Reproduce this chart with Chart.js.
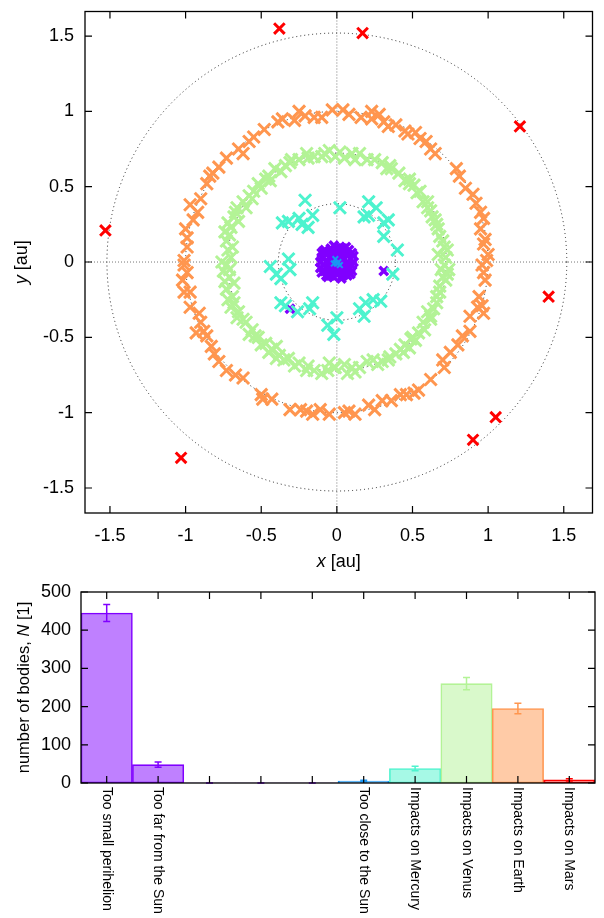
<!DOCTYPE html>
<html>
<head>
<meta charset="utf-8">
<script src="https://cdn.jsdelivr.net/npm/chart.js@4.4.1/dist/chart.umd.min.js"></script>
<style>
  body { margin: 0; background: #fff; }
  canvas { display: block; }
</style>
</head>
<body>
<canvas id="orbits" width="604" height="580"></canvas>
<canvas id="losses" width="604" height="338"></canvas>
<script>
/*
    positions of the removed bodies (x, y in au) and the loss counts
*/
const axisTicks = [-1.5, -1, -0.5, 0, 0.5, 1, 1.5];
const orbitRadii = [0.387, 0.723, 1.0, 1.52];

// too small perihelion (dense blob round the Sun + two strays)
const smallPerihelion = [
  [0, 0], [0.03, 0.01], [-0.03, 0.02], [0.06, -0.01], [-0.06, 0.00], [0.09, 0.02], [-0.09, -0.02],
  [0.01, 0.05], [0.04, 0.06], [-0.04, 0.06], [0.07, 0.05], [-0.07, 0.05], [0.00, 0.09], [0.04, 0.09],
  [-0.04, 0.09], [0.08, 0.08], [-0.08, 0.08], [0.02, -0.04], [-0.02, -0.03], [0.05, -0.05], [-0.05, -0.05],
  [0.08, -0.05], [-0.08, -0.06], [0.00, -0.08], [0.04, -0.09], [-0.04, -0.09], [0.07, -0.09], [-0.07, -0.09],
  [0.10, -0.02], [-0.10, 0.03], [0.10, 0.06], [-0.10, -0.07], [0.02, 0.10], [-0.02, -0.10], [0.06, 0.10],
  [-0.06, -0.10], [0.11, 0.00], [-0.11, 0.00], [-0.02, 0.11], [0.03, -0.11],
  [0.02, 0.03], [-0.02, 0.04], [0.05, 0.02], [-0.05, 0.03], [0.03, -0.02], [-0.04, -0.01], [0.06, -0.03],
  [-0.06, -0.03], [0.02, 0.07], [-0.02, 0.07], [0.02, -0.07], [-0.02, -0.06], [0.09, -0.08], [-0.09, 0.07],
  [0.11, 0.04], [-0.11, -0.04], [0.10, -0.06], [-0.10, 0.06],
  [0.31, -0.06], [-0.31, -0.31]
];
// too close to the Sun
const tooClose = [[0.01, 0.00], [-0.01, 0.02], [0.00, -0.01], [0.02, -0.02], [-0.02, -0.01]];
// impacts on Mercury
const mercuryImpacts = [
  [-0.21, 0.41], [0.02, 0.36], [0.21, 0.40], [0.26, 0.36], [0.18, 0.30], [0.21, 0.31], [-0.36, 0.26],
  [-0.32, 0.27], [-0.25, 0.29], [-0.23, 0.25], [-0.19, 0.23], [-0.16, 0.31], [0.31, 0.26], [0.34, 0.28],
  [0.31, 0.17], [0.40, 0.08], [-0.32, 0.02], [-0.44, -0.03], [-0.31, -0.05], [-0.37, -0.11], [-0.40, -0.08],
  [0.37, -0.08], [-0.34, -0.29], [-0.26, -0.33], [-0.16, -0.27], [-0.18, -0.31], [-0.06, -0.42],
  [0.00, -0.37], [-0.02, -0.48], [0.15, -0.31], [0.19, -0.27], [0.24, -0.25], [0.29, -0.26], [0.18, -0.36],
  [-0.37, -0.27]
];
// impacts on Venus
const venusImpacts = [
  [-0.05, 0.74], [-0.08, 0.72], [-0.15, 0.70], [-0.19, 0.69], [-0.25, 0.68], [-0.31, 0.66], [-0.34, 0.64],
  [-0.41, 0.62], [-0.47, 0.55], [-0.52, 0.52], [-0.50, 0.49], [-0.58, 0.44], [-0.60, 0.36], [-0.67, 0.33],
  [-0.65, 0.27], [-0.70, 0.23], [-0.71, 0.18], [-0.73, 0.14], [-0.70, 0.03], [-0.76, 0.00],
  [-0.01, 0.70], [0.05, 0.69], [0.10, 0.72], [0.15, 0.72], [0.20, 0.68], [0.30, 0.66], [0.36, 0.62],
  [0.41, 0.59], [0.45, 0.54], [0.51, 0.51], [0.53, 0.46], [0.57, 0.40], [0.62, 0.34], [0.65, 0.28],
  [0.68, 0.17], [0.71, 0.10], [0.72, 0.03],
  [-0.73, -0.02], [-0.71, -0.10], [-0.73, -0.18], [-0.69, -0.23], [-0.68, -0.27], [-0.65, -0.33],
  [-0.60, -0.40], [-0.56, -0.45], [-0.52, -0.50], [-0.47, -0.54], [-0.43, -0.58], [-0.38, -0.62],
  [-0.32, -0.64], [-0.25, -0.67], [-0.19, -0.69], [-0.15, -0.72], [-0.06, -0.72], [-0.02, -0.70],
  [-0.01, -0.70], [0.07, -0.74], [0.15, -0.70], [0.20, -0.66], [0.27, -0.68], [0.34, -0.65], [0.39, -0.61],
  [0.45, -0.55], [0.49, -0.51], [0.54, -0.47], [0.57, -0.40], [0.62, -0.36], [0.64, -0.31], [0.66, -0.23],
  [0.68, -0.16], [0.70, -0.10], [0.71, -0.02],
  [-0.55, 0.47], [-0.45, 0.57], [-0.62, 0.40], [-0.68, 0.30], [-0.74, 0.20], [-0.72, 0.08], [-0.37, 0.60],
  [-0.20, 0.72], [-0.10, 0.70], [0.02, 0.73], [0.12, 0.68], [0.25, 0.68], [0.33, 0.62], [0.48, 0.55],
  [0.55, 0.47], [0.60, 0.40], [0.63, 0.30], [0.67, 0.22], [0.70, 0.14], [0.67, 0.05], [0.74, -0.05],
  [-0.75, -0.06], [-0.68, -0.14], [-0.72, -0.25], [-0.62, -0.38], [-0.58, -0.48], [-0.50, -0.55],
  [-0.40, -0.56], [-0.35, -0.65], [-0.28, -0.69], [-0.10, -0.74], [-0.05, -0.67], [0.05, -0.68],
  [0.12, -0.73], [0.24, -0.65], [0.30, -0.66], [0.42, -0.58], [0.48, -0.57], [0.52, -0.52], [0.58, -0.45],
  [0.60, -0.33], [0.66, -0.27], [0.68, -0.20], [0.72, -0.12],
  [-0.71, -0.05], [-0.74, -0.13], [-0.70, -0.30], [-0.66, -0.37], [-0.54, -0.49], [-0.45, -0.60],
  [-0.40, -0.64], [-0.20, -0.72], [0.10, -0.70], [0.35, -0.63], [0.44, -0.60], [0.50, -0.50], [0.62, -0.38],
  [0.73, -0.08], [0.69, -0.05], [0.73, 0.08], [0.66, 0.25], [0.60, 0.36], [0.48, 0.52], [0.35, 0.64],
  [-0.30, 0.68], [-0.44, 0.54], [-0.56, 0.42], [-0.66, 0.36], [-0.72, 0.26], [-0.69, 0.10]
];
// impacts on Earth
const earthImpacts = [
  [-0.03, 1.01], [-0.10, 0.96], [-0.15, 0.96], [-0.25, 1.00], [-0.28, 0.94], [-0.36, 0.95], [-0.39, 0.93],
  [-0.55, 0.83], [-0.58, 0.80], [-0.65, 0.75], [-0.62, 0.72], [-0.73, 0.69], [-0.82, 0.59], [-0.84, 0.57],
  [-0.86, 0.52], [-0.90, 0.42], [-0.97, 0.38], [-0.92, 0.33], [-0.95, 0.28], [-0.99, 0.16], [-0.99, 0.10],
  [-1.01, 0.01],
  [0.04, 1.01], [0.08, 0.98], [0.16, 0.96], [0.23, 1.00], [0.23, 0.95], [0.31, 0.93], [0.34, 0.90],
  [0.39, 0.91], [0.45, 0.87], [0.47, 0.85], [0.55, 0.82], [0.59, 0.80], [0.62, 0.75], [0.65, 0.72],
  [0.79, 0.62], [0.81, 0.57], [0.85, 0.49], [0.92, 0.39], [0.95, 0.33], [0.97, 0.29], [0.98, 0.15],
  [0.97, 0.12], [0.99, 0.01],
  [-1.01, -0.02], [-0.99, -0.07], [-1.01, -0.20], [-0.97, -0.20], [-0.97, -0.30], [-0.91, -0.34],
  [-0.93, -0.47], [-0.88, -0.46], [-0.86, -0.49], [-0.83, -0.56], [-0.81, -0.61], [-0.73, -0.72],
  [-0.67, -0.75], [-0.62, -0.77], [-0.50, -0.88], [-0.49, -0.91], [-0.31, -0.98], [-0.24, -0.98],
  [-0.16, -1.01], [-0.11, -0.98], [-0.05, -1.01],
  [0.96, -0.02], [0.97, -0.07], [0.94, -0.23], [0.96, -0.29], [0.97, -0.34], [0.88, -0.36], [0.88, -0.46],
  [0.83, -0.49], [0.80, -0.55], [0.70, -0.65], [0.71, -0.70], [0.62, -0.78], [0.51, -0.87], [0.54, -0.85],
  [0.42, -0.88], [0.36, -0.92], [0.30, -0.92], [0.25, -0.98], [0.21, -0.95], [0.12, -1.01], [0.05, -1.00],
  [-0.21, 0.97], [0.28, 0.98], [0.95, 0.22], [1.00, 0.05], [0.98, -0.12], [0.93, -0.30], [0.75, -0.60],
  [0.46, -0.88], [0.08, -0.99], [-0.20, -0.99], [-0.43, -0.91], [-0.78, -0.66], [-0.90, -0.40],
  [-1.02, -0.12], [-1.00, 0.22], [-0.78, 0.63], [-0.48, 0.88], [0.52, 0.86], [0.90, 0.45]
];
// impacts on Mars
const marsImpacts = [
  [-0.38, 1.55], [0.17, 1.52], [1.21, 0.90], [-1.53, 0.21], [1.40, -0.23], [1.05, -1.03], [0.90, -1.18],
  [-1.03, -1.30]
];

// loss statistics (bottom panel)
const categories = ['Too small perihelion', 'Too far from the Sun', '', '', '', 'Too close to the Sun',
  'Impacts on Mercury', 'Impacts on Venus', 'Impacts on Earth', 'Impacts on Mars'];
const counts = [445, 48, 0, 0, 0, 5, 38, 260, 195, 8];
const countErrors = [22, 7, 0, 0, 0, 2, 6, 16, 14, 3];
const countTicks = [0, 100, 200, 300, 400, 500];

const FONT = '"Liberation Sans", Arial, sans-serif';
const PURPLE = '#8000ff', BLUE = '#1996f3', TURQ = '#4df3ce', GREEN = '#b3f396', ORANGE = '#ff964f', RED = '#ff0000';

function toXY(list) {
    return list.map(p => ({x: p[0], y: p[1]}));
}

// text with some italic pieces, centred on (x, y)
function drawRich(ctx, parts, x, y, angle, size) {
    ctx.save();
    ctx.translate(x, y);
    ctx.rotate(angle);
    let total = 0;
    parts.forEach(p => {
        ctx.font = (p.it ? 'italic ' : '') + size + 'px ' + FONT;
        p.w = ctx.measureText(p.t).width;
        total += p.w;
    });
    let cx = -total / 2;
    ctx.fillStyle = '#000';
    ctx.textAlign = 'left';
    ctx.textBaseline = 'middle';
    parts.forEach(p => {
        ctx.font = (p.it ? 'italic ' : '') + size + 'px ' + FONT;
        ctx.fillText(p.t, cx, 0);
        cx += p.w;
    });
    ctx.restore();
}

function drawFrame(ctx, a) {
    ctx.save();
    ctx.strokeStyle = '#000';
    ctx.lineWidth = 1.3;
    ctx.strokeRect(a.left, a.top, a.width, a.height);
    ctx.restore();
}

/*
    orbit circles, dotted zero axes, frame with inward ticks, axis titles
*/
const orbitPlugin = {
    id: 'orbitPlugin',
    beforeDatasetsDraw(chart) {
        const {ctx, chartArea: a, scales: {x, y}} = chart;
        const cx = x.getPixelForValue(0), cy = y.getPixelForValue(0);
        ctx.save();
        ctx.beginPath();
        ctx.rect(a.left, a.top, a.width, a.height);
        ctx.clip();
        ctx.lineWidth = 1;
        ctx.strokeStyle = '#777';
        ctx.setLineDash([1, 2]);
        ctx.beginPath();
        ctx.moveTo(cx, a.top); ctx.lineTo(cx, a.bottom);
        ctx.moveTo(a.left, cy); ctx.lineTo(a.right, cy);
        ctx.stroke();
        ctx.strokeStyle = '#222';
        ctx.setLineDash([1, 3]);
        orbitRadii.forEach(r => {
            const rx = x.getPixelForValue(r) - cx;
            const ry = cy - y.getPixelForValue(r);
            ctx.beginPath();
            ctx.ellipse(cx, cy, rx, ry, 0, 0, 2 * Math.PI);
            ctx.stroke();
        });
        ctx.restore();
    },
    afterDraw(chart) {
        const {ctx, chartArea: a, scales: {x, y}} = chart;
        drawFrame(ctx, a);
        ctx.save();
        ctx.strokeStyle = '#000';
        ctx.lineWidth = 1.2;
        ctx.beginPath();
        axisTicks.forEach(v => {
            const px = x.getPixelForValue(v), py = y.getPixelForValue(v);
            ctx.moveTo(px, a.bottom); ctx.lineTo(px, a.bottom - 7);
            ctx.moveTo(px, a.top); ctx.lineTo(px, a.top + 7);
            ctx.moveTo(a.left, py); ctx.lineTo(a.left + 7, py);
            ctx.moveTo(a.right, py); ctx.lineTo(a.right - 7, py);
        });
        ctx.stroke();
        ctx.restore();
        drawRich(ctx, [{t: 'x', it: true}, {t: ' [au]'}], (a.left + a.right) / 2, 562, 0, 18);
        drawRich(ctx, [{t: 'y', it: true}, {t: ' [au]'}], 22, (a.top + a.bottom) / 2, -Math.PI / 2, 18);
    }
};

function crosses(label, list, color, r, lw, order) {
    return {
        label: label,
        data: toXY(list),
        pointStyle: 'crossRot',
        pointRadius: r,
        pointHoverRadius: r,
        borderColor: color,
        backgroundColor: color,
        borderWidth: lw,
        pointBorderWidth: lw,
        order: order
    };
}

const tickFont = {family: FONT, size: 18};

const orbitChart = new Chart('orbits', {
    type: 'scatter',
    data: {
        datasets: [
            crosses('Too small perihelion', smallPerihelion, PURPLE, 6, 3.5, 6),
            crosses('Too close to the Sun', tooClose, BLUE, 4, 2, 5),
            crosses('Impacts on Mercury', mercuryImpacts, TURQ, 8.5, 3, 4),
            crosses('Impacts on Venus', venusImpacts, GREEN, 8.5, 3, 3),
            crosses('Impacts on Earth', earthImpacts, ORANGE, 8.5, 3, 2),
            crosses('Impacts on Mars', marsImpacts, RED, 7.5, 3, 1)
        ]
    },
    options: {
        responsive: false,
        animation: false,
        events: [],
        layout: {padding: {top: 4, right: 5, left: 0, bottom: 0}},
        plugins: {legend: {display: false}, tooltip: {enabled: false}},
        scales: {
            x: {
                type: 'linear', min: -1.665, max: 1.69,
                afterBuildTicks: s => { s.ticks = axisTicks.map(v => ({value: v})); },
                afterFit: s => { s.height = 67; s.paddingLeft = 0; s.paddingRight = 0; },
                grid: {display: false, drawTicks: false},
                border: {display: false},
                ticks: {padding: 12, color: '#000', font: tickFont, callback: v => String(v)}
            },
            y: {
                type: 'linear', min: -1.666, max: 1.663,
                afterBuildTicks: s => { s.ticks = axisTicks.map(v => ({value: v})); },
                afterFit: s => { s.width = 85; s.paddingTop = 0; s.paddingBottom = 0; },
                grid: {display: false, drawTicks: false},
                border: {display: false},
                ticks: {padding: 11, color: '#000', font: tickFont, callback: v => String(v)}
            }
        }
    },
    plugins: [orbitPlugin]
});

/*
    bar panel: error bars, frame, inward ticks, rotated category names
*/
const barLines = [PURPLE, PURPLE, PURPLE, PURPLE, PURPLE, BLUE, TURQ, GREEN, ORANGE, RED];
const barFills = ['#bf80ff', '#bf80ff', '#bf80ff', '#bf80ff', '#bf80ff', '#8ccbf9', '#a6f9e6', '#d9f9cb', '#ffcba7', '#ff8080'];

const lossPlugin = {
    id: 'lossPlugin',
    afterDatasetsDraw(chart) {
        const {ctx, scales: {y}} = chart;
        const meta = chart.getDatasetMeta(0);
        ctx.save();
        ctx.lineWidth = 1.5;
        counts.forEach((c, i) => {
            const px = meta.data[i].x;
            const hi = y.getPixelForValue(c + countErrors[i]);
            const lo = y.getPixelForValue(Math.max(c - countErrors[i], 0));
            ctx.strokeStyle = barLines[i];
            ctx.beginPath();
            ctx.moveTo(px, hi); ctx.lineTo(px, lo);
            ctx.moveTo(px - 3.5, hi); ctx.lineTo(px + 3.5, hi);
            ctx.moveTo(px - 3.5, lo); ctx.lineTo(px + 3.5, lo);
            ctx.stroke();
        });
        ctx.restore();
    },
    afterDraw(chart) {
        const {ctx, chartArea: a, scales: {x, y}} = chart;
        drawFrame(ctx, a);
        ctx.save();
        ctx.strokeStyle = '#000';
        ctx.lineWidth = 1.2;
        ctx.beginPath();
        categories.forEach((c, i) => {
            const px = x.getPixelForTick(i);
            ctx.moveTo(px, a.bottom); ctx.lineTo(px, a.bottom - 7);
            ctx.moveTo(px, a.top); ctx.lineTo(px, a.top + 7);
        });
        countTicks.forEach(v => {
            const py = y.getPixelForValue(v);
            ctx.moveTo(a.left, py); ctx.lineTo(a.left + 7, py);
            ctx.moveTo(a.right, py); ctx.lineTo(a.right - 7, py);
        });
        ctx.stroke();
        ctx.fillStyle = '#000';
        ctx.font = '14px ' + FONT;
        ctx.textAlign = 'left';
        ctx.textBaseline = 'middle';
        categories.forEach((c, i) => {
            ctx.save();
            ctx.translate(x.getPixelForTick(i), a.bottom + 4);
            ctx.rotate(Math.PI / 2);
            ctx.fillText(c, 0, 0);
            ctx.restore();
        });
        ctx.restore();
        drawRich(ctx, [{t: 'number of bodies, '}, {t: 'N', it: true}, {t: ' [1]'}], 24, (a.top + a.bottom) / 2, -Math.PI / 2, 16.5);
    }
};

const lossChart = new Chart('losses', {
    type: 'bar',
    data: {
        labels: categories,
        datasets: [{
            label: 'number of bodies',
            data: counts,
            backgroundColor: barFills,
            borderColor: barLines,
            borderWidth: c => counts[c.dataIndex] > 0 ? 1.6 : 0,
            borderSkipped: false,
            barPercentage: 1,
            categoryPercentage: 1
        }]
    },
    options: {
        responsive: false,
        animation: false,
        events: [],
        layout: {padding: {top: 12, right: 9, left: 0, bottom: 0}},
        plugins: {legend: {display: false}, tooltip: {enabled: false}},
        scales: {
            x: {
                afterFit: s => { s.height = 135; s.paddingLeft = 0; s.paddingRight = 0; },
                grid: {display: false, drawTicks: false},
                border: {display: false},
                ticks: {display: false}
            },
            y: {
                min: 0, max: 500,
                afterBuildTicks: s => { s.ticks = countTicks.map(v => ({value: v})); },
                afterFit: s => { s.width = 81; s.paddingTop = 0; s.paddingBottom = 0; },
                grid: {display: false, drawTicks: false},
                border: {display: false},
                ticks: {padding: 10, color: '#000', font: tickFont}
            }
        }
    },
    plugins: [lossPlugin]
});
</script>
</body>
</html>
